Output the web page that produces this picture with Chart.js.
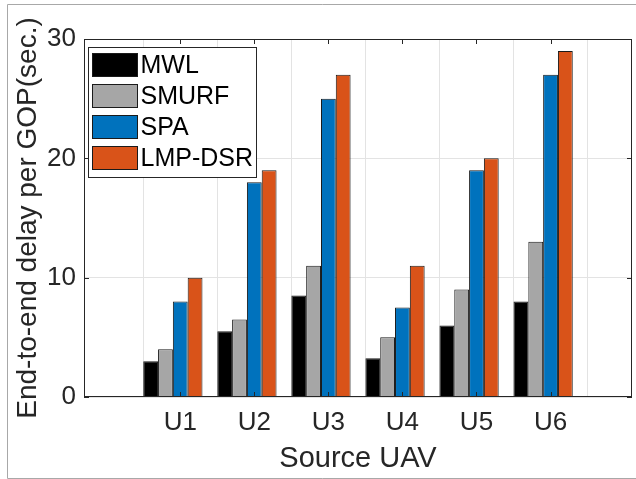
<!DOCTYPE html>
<html lang="en">
<head>
<meta charset="UTF-8">
<title>End-to-end delay per GOP</title>
<script src="https://cdn.jsdelivr.net/npm/chart.js"></script>
<style>
  html, body { margin: 0; padding: 0; background: #fff; }
  canvas { display: block; }
</style>
</head>
<body>
<canvas id="delayChart" width="636" height="479"></canvas>
<script>
// source UAVs along the x axis
const categories = ['U1', 'U2', 'U3', 'U4', 'U5', 'U6'];

// end-to-end delay per GOP (sec.)
const mwl    = [3, 5.5, 8.5, 3.25, 6, 8];
const smurf  = [4, 6.5, 11, 5, 9, 13];
const spa    = [8, 18, 25, 7.5, 19, 27];
const lmpDsr = [10, 19, 27, 11, 20, 29];

const yTicks = [0, 10, 20, 30];

const seriesNames  = ['MWL', 'SMURF', 'SPA', 'LMP-DSR'];
const seriesValues = [mwl, smurf, spa, lmpDsr];
const seriesColors = ['#000000', '#a6a6a6', '#0072bd', '#d95319'];

const FONT = '"Liberation Sans", Arial, Helvetica, sans-serif';
const AXIS = '#262626';
const GROUP_PCT = 0.8;
// matlab puts the tick under the third bar of each group, half a bar right of centre
const tickShift = GROUP_PCT / seriesValues.length / 2;

// frame, inward tick marks and the boxed legend, matlab style
const matlabAxes = {
    id: 'matlabAxes',
    beforeDraw(chart) {
        const c = chart.ctx;
        c.save();
        c.fillStyle = '#fff';
        c.fillRect(0, 0, chart.width, chart.height);
        // figure border
        c.strokeStyle = '#a8a8a8';
        c.lineWidth = 1;
        c.beginPath();
        c.moveTo(chart.width + 2, 4.5);
        c.lineTo(7.5, 4.5);
        c.lineTo(7.5, chart.height - 0.5);
        c.lineTo(chart.width + 2, chart.height - 0.5);
        c.stroke();
        c.restore();
    },
    afterDatasetsDraw(chart) {
        const { ctx: c, chartArea: a, scales: { x, y } } = chart;
        const len = 5;
        c.save();
        c.strokeStyle = AXIS;
        c.lineWidth = 1;
        c.beginPath();
        x.ticks.forEach(t => {
            const px = Math.round(x.getPixelForValue(t.value)) + 0.5;
            c.moveTo(px, a.bottom); c.lineTo(px, a.bottom - len);
            c.moveTo(px, a.top); c.lineTo(px, a.top + len);
        });
        y.ticks.forEach(t => {
            const py = Math.round(y.getPixelForValue(t.value)) + 0.5;
            c.moveTo(a.left, py); c.lineTo(a.left + len, py);
            c.moveTo(a.right, py); c.lineTo(a.right - len, py);
        });
        c.stroke();
        c.strokeRect(a.left + 0.5, a.top + 0.5, a.right - a.left - 1, a.bottom - a.top - 1);
        c.restore();
    },
    afterDraw(chart) {
        const { ctx: c, chartArea: a } = chart;
        const bx = a.left + 4.5, by = a.top + 8.5, bw = 168, bh = 130;
        c.save();
        c.fillStyle = '#fff';
        c.fillRect(bx, by, bw, bh);
        c.strokeStyle = AXIS;
        c.lineWidth = 1;
        c.strokeRect(bx, by, bw, bh);
        c.font = '25px ' + FONT;
        c.textBaseline = 'middle';
        c.textAlign = 'left';
        chart.data.datasets.forEach((ds, i) => {
            const sy = by + 6 + i * 31;
            c.fillStyle = ds.backgroundColor;
            c.fillRect(bx + 4, sy, 45, 23);
            c.strokeStyle = '#1a1a1a';
            c.strokeRect(bx + 4, sy, 45, 23);
            c.fillStyle = '#000';
            c.fillText(ds.label, bx + 52, sy + 12.5);
        });
        c.restore();
    }
};

const ctx = document.getElementById('delayChart').getContext('2d');

new Chart(ctx, {
    type: 'bar',
    data: {
        datasets: seriesNames.map((name, k) => ({
            label: name,
            data: seriesValues[k].map((v, i) => ({ x: i + 1, y: v })),
            backgroundColor: seriesColors[k],
            borderColor: '#1a1a1a',
            borderWidth: 1,
            barPercentage: 1,
            categoryPercentage: GROUP_PCT
        }))
    },
    options: {
        responsive: false,
        animation: false,
        layout: { padding: { top: 39, right: 4, left: 0, bottom: 0 } },
        plugins: {
            legend: { display: false },
            tooltip: { enabled: false }
        },
        scales: {
            x: {
                type: 'linear',
                min: -0.2,
                max: 7.2,
                offset: false,
                afterBuildTicks: s => { s.ticks = categories.map((_, i) => ({ value: i + 1 + tickShift })); },
                afterFit: s => { s.height = 82; },
                grid: { color: '#e3e3e3', drawTicks: false },
                border: { display: false },
                ticks: {
                    autoSkip: false,
                    maxRotation: 0,
                    padding: 10,
                    color: AXIS,
                    font: { family: FONT, size: 26 },
                    callback: (v, i) => categories[i]
                },
                title: {
                    display: true,
                    text: 'Source UAV',
                    color: AXIS,
                    font: { family: FONT, size: 29 },
                    padding: { top: 0, bottom: 3 }
                }
            },
            y: {
                min: 0,
                max: 30,
                afterBuildTicks: s => { s.ticks = yTicks.map(v => ({ value: v })); },
                afterFit: s => { s.width = 84; },
                grid: { color: '#e3e3e3', drawTicks: false },
                border: { display: false },
                ticks: {
                    padding: 8,
                    color: AXIS,
                    font: { family: FONT, size: 26 }
                },
                title: {
                    display: true,
                    text: 'End-to-end delay per GOP(sec.)',
                    color: AXIS,
                    font: { family: FONT, size: 28 },
                    padding: { top: 11, bottom: 0 }
                }
            }
        }
    },
    plugins: [matlabAxes]
});
</script>
</body>
</html>
